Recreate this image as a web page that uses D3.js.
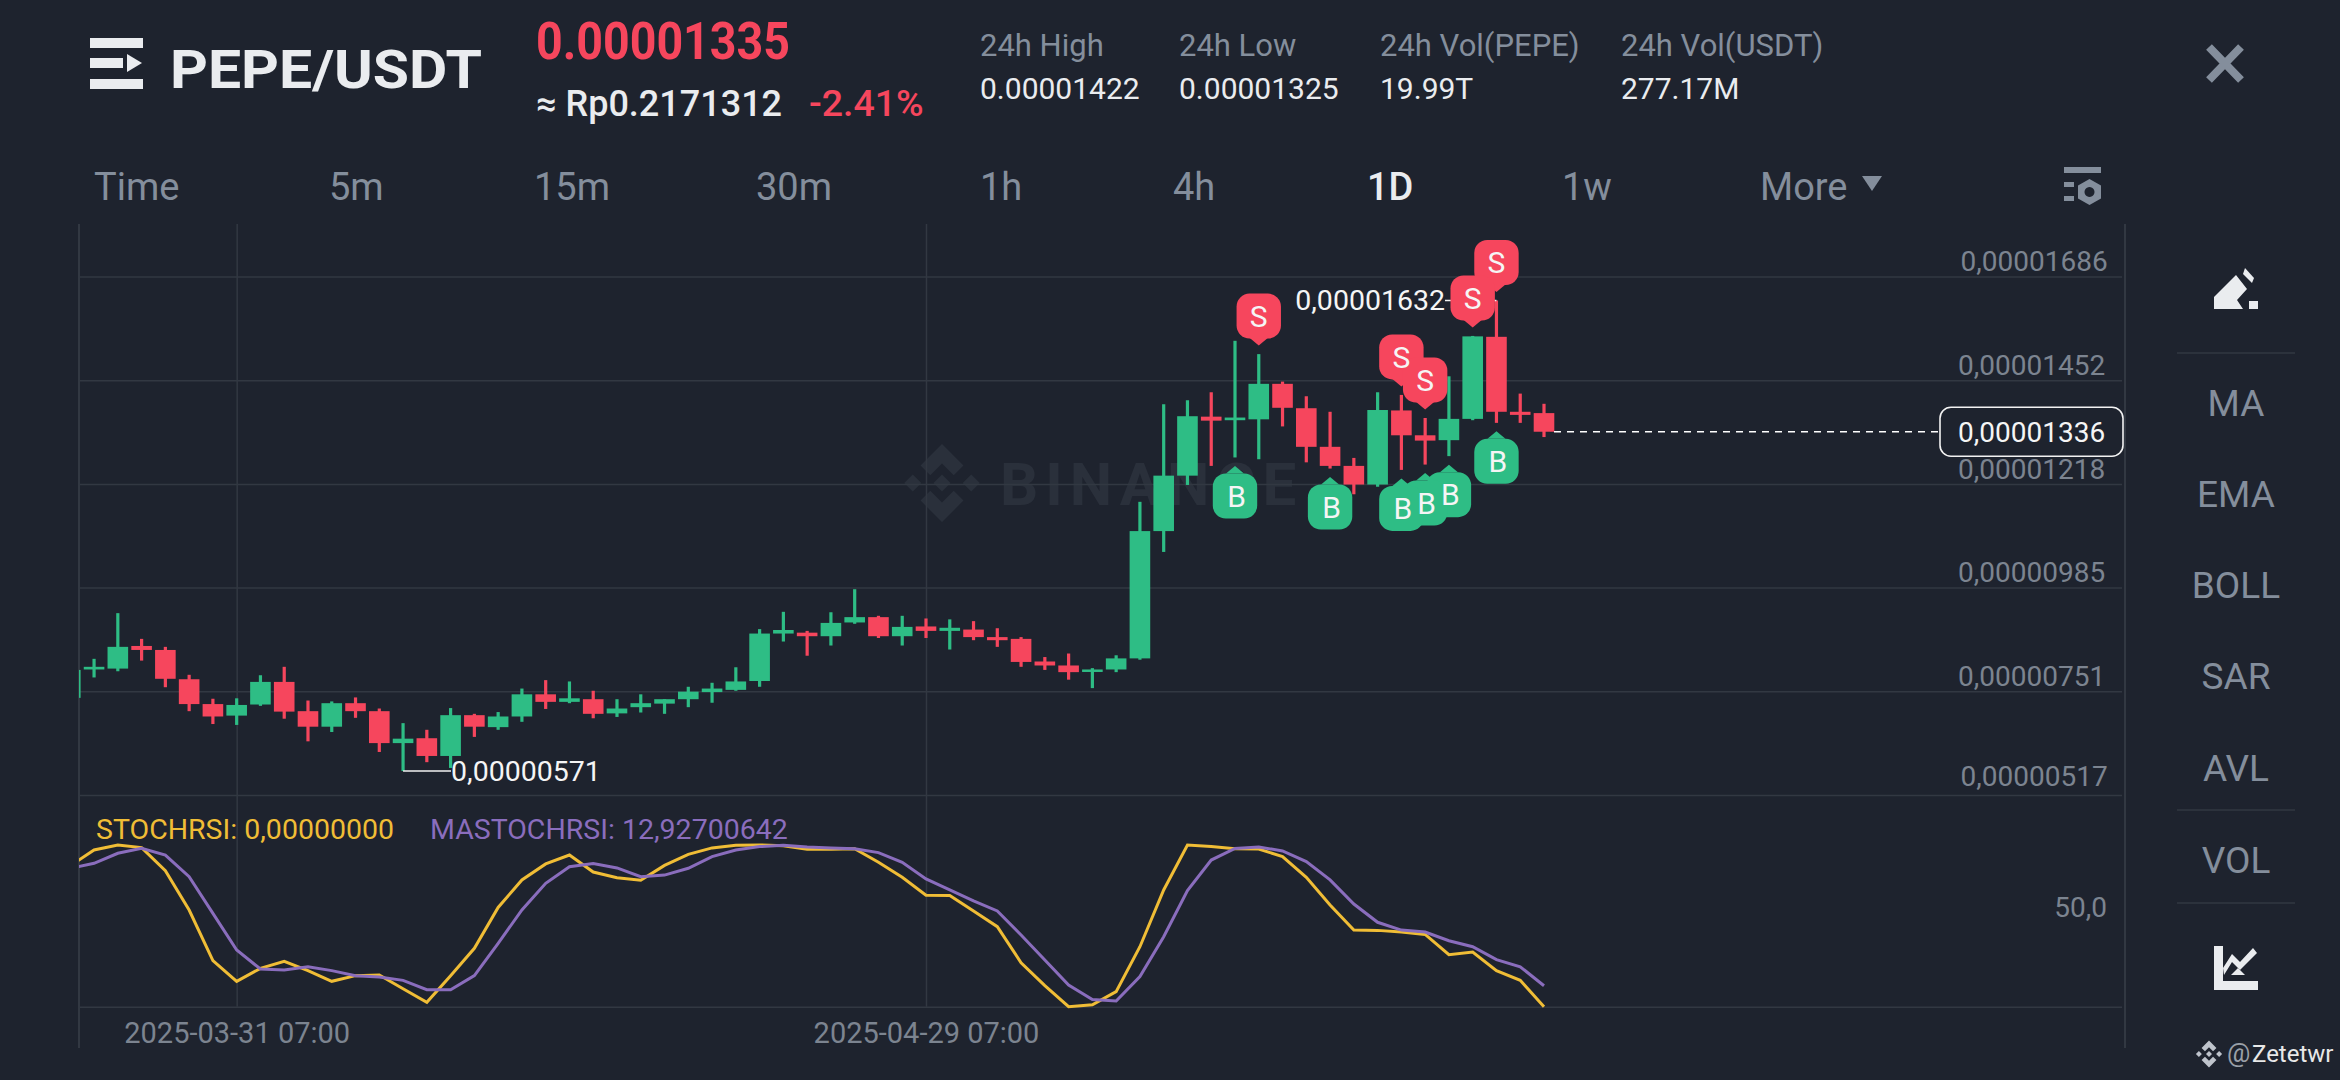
<!DOCTYPE html>
<html>
<head>
<meta charset="utf-8">
<title>PEPE/USDT</title>
<script src="https://cdn.jsdelivr.net/npm/d3@7"></script>
<style>
  html, body { margin: 0; padding: 0; background: #1e232e; }
  svg { display: block; }
  text { font-family: Roboto, "Noto Sans", sans-serif; }
</style>
</head>
<body>
<svg id="chart" width="2340" height="1080"></svg>
<script>
// prices are in units of 0.00000001, first candle is only a sliver at the left edge (index -1)
const firstIndex = -1;
const opens = [736,800,802,853,844,778,722,696,721,772,706,671,724,706,634,645,605,697,670,694,744,727,733,701,715,723,733,749,754,774,881,883,875,906,918,875,897,887,890,873,869,818,809,795,800,825,1112,1237,1370,1362,1364,1444,1389,1302,1259,1217,1384,1328,1317,1365,1550,1381,1378];
const highs = [810,824,927,869,851,788,734,735,787,806,730,728,737,712,679,664,713,700,704,757,776,773,752,733,744,733,761,770,805,891,930,887,929,981,921,921,915,913,909,893,873,828,836,803,832,1178,1398,1407,1425,1541,1511,1449,1416,1381,1277,1425,1419,1367,1461,1552,1632,1422,1399];
const lows = [730,782,796,820,760,706,677,675,718,689,638,659,691,614,571,591,578,648,664,682,711,724,690,693,703,700,715,725,752,761,863,831,854,903,871,854,871,845,866,851,806,799,777,758,794,822,1065,1216,1259,1278,1274,1348,1267,1253,1195,1212,1250,1262,1281,1362,1356,1356,1324];
const closes = [799,806,851,844,779,722,694,720,772,705,671,724,706,634,644,605,697,671,694,744,727,735,700,712,724,733,750,757,773,881,889,875,905,918,875,896,887,894,873,866,817,809,794,800,825,1112,1237,1371,1361,1368,1444,1390,1302,1259,1217,1385,1328,1316,1365,1551,1381,1374,1336];

const stochRsi = [87.2,96.9,100,98.4,84.1,59.8,28.5,15.7,23.7,28,22.3,15.7,19.2,19.6,11.1,2.7,19.2,36.1,61.4,78.4,88.3,93.8,83.3,79.8,78.2,87.4,94.2,98.2,99.8,100,99.6,97.3,97.3,97.7,89.3,80,68.9,68.7,59.2,49.5,27.2,13,0,1.2,9.3,37.1,72.2,100,99,97.7,97.5,92.8,80,62.9,47.4,47.2,46.2,44.7,32.2,33.8,22.3,16.3,0];
const maStochRsi = [85.6,88.7,94.9,97.9,93.8,80.4,57.7,35.1,23.3,22.7,24.7,22.3,19.2,18.4,16.3,10.5,10.5,19.2,39.2,59.8,76.3,86.6,88.5,85.8,80.4,81.4,85.6,92.8,96.9,99,99.8,98.8,98.2,97.7,95.3,89.3,79,72.2,65.4,59.2,44.3,28.9,13.4,4.5,3.5,18.6,43.3,71.8,90.7,97.9,98.8,96.3,89.7,78.4,63.5,52.2,47.4,46.2,40.8,37.1,29.1,24.7,12.93];

const priceTicks = [1686,1452,1218,985,751,517];
const stochTicks = [0,50];
const dateTicks = [6,35];
const dateLabels = ["2025-03-31 07:00","2025-04-29 07:00"];
const sellSignals = [49,55,56,59,58];
const buySignals = [48,52,57,56,55,59];
const lastPrice = 1336;
const highLabelIndex = 59;
const lowLabelIndex = 13;

const intervals = ["Time","5m","15m","30m","1h","4h","1D","1w","More"];
const statNames = ["24h High","24h Low","24h Vol(PEPE)","24h Vol(USDT)"];
const statValues = ["0.00001422","0.00001325","19.99T","277.17M"];
const sideItems = ["MA","EMA","BOLL","SAR","AVL","VOL"];

const bg = "#1e232e", green = "#2ebd85", red = "#f6465d", grey = "#848e9c", gridColor = "#323842", axisColor = "#7c8490";
const plotLeft = 79, plotRight = 2125, plotTop = 224, plotBottom = 1048;

const svg = d3.select("#chart");
svg.append("rect").attr("width", 2340).attr("height", 1080).attr("fill", bg);

const x = d3.scaleLinear().domain([0, 61]).range([94.06, 1544]);
const y = d3.scaleLinear().domain([517, 1686]).range([795, 276.5]);
const yStoch = d3.scaleLinear().domain([0, 100]).range([1006.7, 845]);

const fmtPrice = v => "0," + String(v).padStart(8, "0");

svg.append("defs").append("clipPath").attr("id", "plot")
  .append("rect").attr("x", plotLeft).attr("y", plotTop)
  .attr("width", plotRight - plotLeft).attr("height", plotBottom - plotTop);

// binance diamond logo, r is half its height
function logo(g, cx, cy, r, fill) {
  const diamond = (dx, h) => [[dx, -h], [dx + h, 0], [dx, h], [dx - h, 0]];
  const top = [[0,-1],[.55,-.45],[.3,-.2],[0,-.5],[-.3,-.2],[-.55,-.45]];
  const shapes = [diamond(0, .22), diamond(-.75, .22), diamond(.75, .22), top, top.map(p => [p[0], -p[1]])];
  g.selectAll(null).data(shapes).enter().append("path")
    .attr("transform", `translate(${cx},${cy}) scale(${r})`)
    .attr("d", d3.line())
    .attr("fill", fill);
}

// watermark goes under everything
logo(svg.append("g"), 942, 483, 39, "#2a303b");
svg.append("text").attr("x", 1000).attr("y", 505)
  .attr("font-size", 60).attr("font-weight", 700).attr("letter-spacing", 7)
  .attr("fill", "#2a303b").text("BINANCE");

// axes + grid
const priceAxis = svg.append("g").attr("transform", `translate(${plotLeft},0)`)
  .call(d3.axisRight(y).tickValues(priceTicks).tickSize(plotRight - plotLeft - 3).tickFormat(fmtPrice));
priceAxis.select(".domain").remove();
priceAxis.selectAll("line").attr("stroke", gridColor).attr("stroke-width", 1.5);
priceAxis.selectAll("text")
  .attr("x", (d, i) => (i == 0 || i == priceTicks.length - 1) ? 1881.5 : 1879)
  .attr("y", (d, i) => i == 0 ? -6.5 : i == priceTicks.length - 1 ? -10 : -5.5).attr("dy", 0)
  .attr("text-anchor", "start")
  .attr("font-size", 28).attr("font-family", "Roboto").attr("fill", axisColor);

const stochAxis = svg.append("g").attr("transform", `translate(${plotLeft},0)`)
  .call(d3.axisRight(yStoch).tickValues(stochTicks).tickSize(plotRight - plotLeft - 3).tickFormat(v => v + ",0"));
stochAxis.select(".domain").remove();
stochAxis.selectAll("line").attr("stroke", gridColor).attr("stroke-width", 1.5).attr("opacity", d => d == 0 ? 1 : 0);
stochAxis.selectAll("text")
  .attr("x", 2028).attr("y", -9).attr("dy", 0)
  .attr("text-anchor", "end")
  .attr("font-size", 28).attr("font-family", "Roboto").attr("fill", axisColor)
  .attr("opacity", d => d == 0 ? 0 : 1);

const timeAxis = svg.append("g").attr("transform", `translate(0,${yStoch(0)})`)
  .call(d3.axisBottom(x).tickValues(dateTicks).tickSize(plotTop - yStoch(0)).tickFormat((d, i) => dateLabels[i]));
timeAxis.select(".domain").remove();
timeAxis.selectAll("line").attr("stroke", gridColor).attr("stroke-width", 1.5);
timeAxis.selectAll("text").attr("y", 36).attr("dy", 0)
  .attr("font-size", 29).attr("font-family", "Roboto").attr("fill", axisColor);

svg.selectAll(".edge").data([plotLeft, plotRight]).enter().append("line").attr("class", "edge")
  .attr("x1", d => d).attr("x2", d => d).attr("y1", plotTop).attr("y2", plotBottom)
  .attr("stroke", gridColor).attr("stroke-width", 2);

const plot = svg.append("g").attr("clip-path", "url(#plot)");

// stoch rsi lines
const stochLine = d3.line().x((d, i) => x(i + firstIndex)).y(d => yStoch(d));
plot.append("path").datum(stochRsi).attr("d", stochLine)
  .attr("fill", "none").attr("stroke", "#f0bd36").attr("stroke-width", 3);
plot.append("path").datum(maStochRsi).attr("d", stochLine)
  .attr("fill", "none").attr("stroke", "#8a6dbd").attr("stroke-width", 3);

// candles
const candles = plot.selectAll(".candle").data(opens).enter().append("g").attr("class", "candle")
  .attr("fill", (d, i) => closes[i] >= opens[i] ? green : red);
candles.append("rect")
  .attr("x", (d, i) => x(i + firstIndex) - 1.6).attr("width", 3.2)
  .attr("y", (d, i) => y(highs[i]))
  .attr("height", (d, i) => y(lows[i]) - y(highs[i]));
candles.append("rect")
  .attr("x", (d, i) => x(i + firstIndex) - 10.3).attr("width", 20.6)
  .attr("y", (d, i) => y(Math.max(opens[i], closes[i])))
  .attr("height", (d, i) => Math.max(2.5, Math.abs(y(opens[i]) - y(closes[i]))));

// last price dashed line and box
svg.append("line")
  .attr("x1", x(61) + 10).attr("x2", 1940).attr("y1", y(lastPrice)).attr("y2", y(lastPrice))
  .attr("stroke", "#fff").attr("stroke-width", 1.6).attr("stroke-dasharray", "7 6");
svg.append("rect").attr("x", 1940).attr("y", y(lastPrice) - 24.5).attr("width", 183).attr("height", 49).attr("rx", 11)
  .attr("fill", bg).attr("stroke", "#f2f2f2").attr("stroke-width", 1.6);
svg.append("text").attr("x", 1958).attr("y", y(lastPrice) + 10.5)
  .attr("font-size", 28).attr("fill", "#f5f5f5").text(fmtPrice(lastPrice));

// high / low labels
svg.append("line").attr("x1", 1445).attr("x2", x(highLabelIndex)).attr("y1", y(highs[highLabelIndex + 1])).attr("y2", y(highs[highLabelIndex + 1]))
  .attr("stroke", "#f2f2f2").attr("stroke-width", 1.6);
svg.append("text").attr("x", 1445).attr("y", y(highs[highLabelIndex + 1]) + 10).attr("text-anchor", "end")
  .attr("font-size", 28.5).attr("fill", "#f5f5f5").text(fmtPrice(highs[highLabelIndex + 1]));
svg.append("line").attr("x1", x(lowLabelIndex)).attr("x2", 451).attr("y1", y(lows[lowLabelIndex + 1])).attr("y2", y(lows[lowLabelIndex + 1]))
  .attr("stroke", "#f2f2f2").attr("stroke-width", 1.6);
svg.append("text").attr("x", 451).attr("y", y(lows[lowLabelIndex + 1]) + 10)
  .attr("font-size", 28.5).attr("fill", "#f5f5f5").text(fmtPrice(lows[lowLabelIndex + 1]));

// buy / sell flags, tip 8.5px off the wick. letters go on last so overlapped flags keep theirs
function flags(signals, color, letter, dir) {
  const layer = svg.append("g");
  const g = layer.selectAll("g").data(signals).enter().append("g")
    .attr("transform", d => {
      const px = dir < 0 ? y(highs[d - firstIndex]) - 8.5 : y(lows[d - firstIndex]) + 8.5;
      return `translate(${x(d)},${px})`;
    });
  const top = dir * 7.5, far = dir * 52;
  g.append("path").attr("d", `M0,0L9,${top}L-9,${top}Z`).attr("fill", color);
  g.append("rect").attr("x", -22.2).attr("width", 44.4).attr("height", 45).attr("rx", 13)
    .attr("y", dir < 0 ? far : top).attr("fill", color);
  g.append("text").attr("x", dir > 0 ? 1.5 : 0).attr("y", (top + far) / 2 + 11).attr("text-anchor", "middle")
    .attr("font-size", 30).attr("fill", "#f5f5f5").text(letter)
    .raise();
  g.selectAll("text").each(function () {
    const parent = this.parentNode;
    layer.node().appendChild(this);
    d3.select(this).attr("transform", parent.getAttribute("transform"));
  });
}
flags(sellSignals, red, "S", -1);
flags(buySignals, green, "B", 1);

// stoch legend
svg.append("text").attr("x", 96).attr("y", 839).attr("font-size", 28.5).attr("fill", "#f0bd36").text("STOCHRSI: 0,00000000");
svg.append("text").attr("x", 430).attr("y", 839).attr("font-size", 28.5).attr("fill", "#8a6dbd").text("MASTOCHRSI: 12,92700642");

// header
const iconBars = [[38, 53], [58, 33], [79, 53]];
svg.selectAll(".bar").data(iconBars).enter().append("rect").attr("class", "bar")
  .attr("x", 90).attr("y", d => d[0]).attr("width", d => d[1]).attr("height", 10).attr("fill", "#eaecef");
svg.append("path").attr("d", "M127,54L127,72L142,63Z").attr("fill", "#eaecef");
svg.append("text").attr("x", 170).attr("y", 88).attr("font-size", 54).attr("font-weight", 700)
  .attr("textLength", 312).attr("lengthAdjust", "spacingAndGlyphs").attr("fill", "#eaecef").text("PEPE/USDT");
svg.append("text").attr("x", 536).attr("y", 59).attr("font-size", 52).attr("font-weight", 700)
  .attr("textLength", 254).attr("lengthAdjust", "spacingAndGlyphs").attr("fill", red).text("0.00001335");
svg.append("text").attr("x", 536).attr("y", 116).attr("font-size", 36).attr("font-weight", 500).attr("fill", "#eaecef").text("≈ Rp0.2171312");
svg.append("text").attr("x", 809).attr("y", 116).attr("font-size", 37.5).attr("font-weight", 500).attr("fill", red).text("-2.41%");

const statX = [980, 1179, 1380, 1621];
svg.selectAll(".statName").data(statNames).enter().append("text").attr("class", "statName")
  .attr("x", (d, i) => statX[i]).attr("y", 56).attr("font-size", 31).attr("fill", grey).text(d => d);
svg.selectAll(".statValue").data(statValues).enter().append("text").attr("class", "statValue")
  .attr("x", (d, i) => statX[i]).attr("y", 99).attr("font-size", 30).attr("fill", "#eaecef").text(d => d);

// close button
svg.append("path").attr("d", "M2209,47L2241,80M2241,47L2209,80").attr("stroke", grey).attr("stroke-width", 8).attr("fill", "none");

// interval tabs
const tabX = [94, 329, 534, 756, 980, 1173, 1367, 1562, 1760];
svg.selectAll(".tab").data(intervals).enter().append("text").attr("class", "tab")
  .attr("x", (d, i) => tabX[i]).attr("y", 200).attr("font-size", 38)
  .attr("font-weight", d => d == "1D" ? 500 : 400)
  .attr("fill", d => d == "1D" ? "#eaecef" : grey).text(d => d);
svg.append("path").attr("d", "M1862,176L1882,176L1872,191Z").attr("fill", grey);

// settings icon
const settings = svg.append("g").attr("fill", grey);
settings.append("rect").attr("x", 2064).attr("y", 167).attr("width", 37).attr("height", 6);
settings.append("rect").attr("x", 2064).attr("y", 182).attr("width", 10).attr("height", 5);
settings.append("rect").attr("x", 2064).attr("y", 196).attr("width", 10).attr("height", 5);
settings.append("path").attr("fill-rule", "evenodd").attr("d", "M2089.5,179L2101,185.5L2101,198.5L2089.5,205L2078,198.5L2078,185.5Z M2089.5,187a5,5 0 1,0 0.01,0Z");

// side panel
const sideY = [416, 507, 598, 689, 781, 873];
svg.selectAll(".side").data(sideItems).enter().append("text").attr("class", "side")
  .attr("x", 2236).attr("y", (d, i) => sideY[i]).attr("text-anchor", "middle")
  .attr("font-size", 37).attr("fill", grey).text(d => d);
svg.selectAll(".divider").data([353, 810, 903]).enter().append("line").attr("class", "divider")
  .attr("x1", 2177).attr("x2", 2295).attr("y1", d => d).attr("y2", d => d)
  .attr("stroke", gridColor).attr("stroke-width", 1.5);

// pencil + chart icons
const icons = svg.append("g").attr("fill", "#eaecef");
icons.append("path").attr("d", "M2243,274L2245,268L2254,278L2252,283Z");
icons.append("path").attr("d", "M2214,309L2214,297L2236,275L2247,289L2237,300L2243,309Z");
icons.append("rect").attr("x", 2249).attr("y", 301).attr("width", 9).attr("height", 8);
icons.append("path").attr("d", "M2214,946L2223,946L2223,981L2258,981L2258,990L2214,990Z");
icons.append("path").attr("d", "M2223,968L2232,954L2240,962L2253,948L2257,953L2240,970L2232,962L2224,975Z");
icons.append("path").attr("d", "M2238,968L2245,975L2231,975Z");

// user watermark
logo(svg.append("g"), 2209, 1054, 13.5, "#bfc4cc");
svg.append("text").attr("x", 2227).attr("y", 1062).attr("font-size", 26).attr("font-family", "Liberation Sans").attr("fill", "#9aa0a8").text("@");
svg.append("text").attr("x", 2252).attr("y", 1062).attr("font-size", 24).attr("font-family", "Liberation Sans").attr("fill", "#e8e8e8").text("Zetetwr");
</script>
</body>
</html>
